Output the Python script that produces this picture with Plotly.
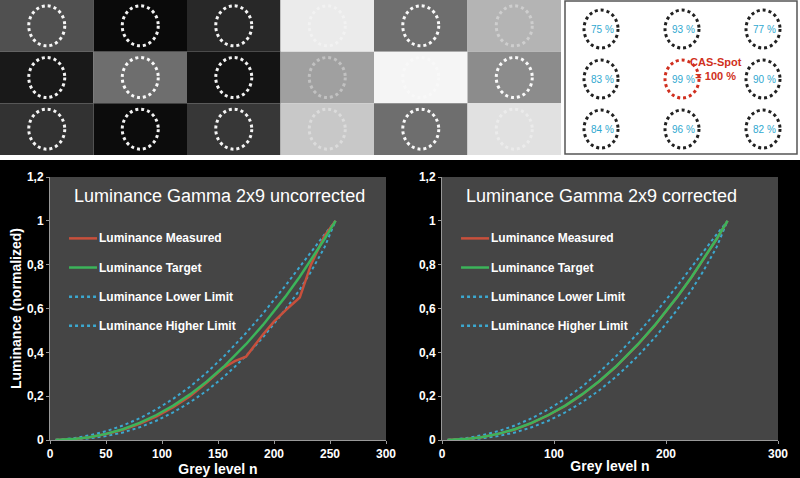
import plotly.graph_objects as go

# grey patch levels (0-255), rows top to bottom, 6 columns
patch_rows = [
    [80, 10, 40, 235, 110, 180],
    [25, 110, 20, 160, 245, 140],
    [50, 12, 55, 200, 110, 225],
]
spot_labels = [["75 %", "93 %", "77 %"], ["83 %", "99 %", "90 %"], ["84 %", "96 %", "82 %"]]

grey = [5, 20, 35, 50, 65, 80, 95, 110, 125, 140, 155, 165, 175, 190, 200, 210, 223, 233, 245, 255]
target = [0.0002, 0.004, 0.013, 0.028, 0.049, 0.078, 0.114, 0.157, 0.208, 0.267, 0.334, 0.385,
          0.437, 0.524, 0.586, 0.653, 0.745, 0.820, 0.916, 1.0]
lower = [0.0, 0.002, 0.007, 0.018, 0.034, 0.058, 0.088, 0.126, 0.172, 0.225, 0.287, 0.334,
         0.384, 0.467, 0.528, 0.594, 0.686, 0.768, 0.878, 1.0]
higher = [0.001, 0.007, 0.021, 0.040, 0.066, 0.099, 0.140, 0.188, 0.243, 0.308, 0.380, 0.433,
          0.488, 0.576, 0.638, 0.703, 0.790, 0.858, 0.937, 1.0]
measured_unc = [0.0, 0.003, 0.012, 0.027, 0.047, 0.074, 0.108, 0.150, 0.200, 0.262, 0.330, 0.360,
                0.380, 0.48, 0.54, 0.59, 0.65, 0.80, 0.93, 1.0]
measured_cor = [0.0, 0.004, 0.013, 0.028, 0.048, 0.077, 0.113, 0.156, 0.207, 0.266, 0.333, 0.384,
                0.436, 0.522, 0.585, 0.652, 0.744, 0.82, 0.915, 1.0]

RED, GREEN, BLUE = "#c8503c", "#3cb45a", "#3ca8d0"
W, H = 800, 478


def px(x):
    return x / W


def py(y):
    return 1 - y / H


fig = go.Figure()
shapes = []
annotations = []
# white strip between picture and charts
shapes.append(dict(type="rect", xref="paper", yref="paper", x0=0, x1=1, y0=py(160), y1=1,
                   fillcolor="white", line_width=0, layer="below"))
top_h = 155
cw, rh = 93.5, top_h / 3
for r, row in enumerate(patch_rows):
    for c, g in enumerate(row):
        x0, y0 = c * cw, r * rh
        shapes.append(dict(type="rect", xref="paper", yref="paper", x0=px(x0), x1=px(x0 + cw),
                           y0=py(y0 + rh), y1=py(y0), fillcolor=f"rgb({g},{g},{g})", line_width=0, layer="below"))
        a = 0.95 if g < 150 else 0.35
        cx, cy = x0 + cw / 2, y0 + rh / 2
        shapes.append(dict(type="circle", xref="paper", yref="paper", x0=px(cx - 18), x1=px(cx + 18),
                           y0=py(cy + 20), y1=py(cy - 20),
                           line=dict(color=f"rgba(255,255,255,{a})", width=3, dash="dot")))
# white spot box
shapes.append(dict(type="rect", xref="paper", yref="paper", x0=px(565), x1=px(797), y0=py(154), y1=py(1),
                   fillcolor="white", line=dict(color="#555", width=1.5)))
for r in range(3):
    for c in range(3):
        cx, cy = 601 + c * 81, 29 + r * 50
        col = "#d03020" if (r, c) == (1, 1) else "#222"
        shapes.append(dict(type="circle", xref="paper", yref="paper", x0=px(cx - 17), x1=px(cx + 17),
                           y0=py(cy + 19), y1=py(cy - 19), line=dict(color=col, width=3, dash="dot")))
        annotations.append(dict(x=px(cx + 1), y=py(cy), xref="paper", yref="paper", text=spot_labels[r][c],
                                xanchor="center", yanchor="middle", showarrow=False,
                                font=dict(family="Arial", size=10, color="#30a8d0")))
annotations.append(dict(x=px(716), y=py(69), xref="paper", yref="paper", text="<b>CAS-Spot<br>= 100 %</b>",
                        xanchor="center", yanchor="middle", showarrow=False,
                        font=dict(family="Arial", size=11, color="#d03020")))

# two charts
dom_y = [py(440), py(177)]
for i, (meas, title) in enumerate([(measured_unc, "Luminance Gamma 2x9 uncorrected"),
                                   (measured_cor, "Luminance Gamma 2x9 corrected")]):
    xa, ya = ("x", "y") if i == 0 else ("x2", "y2")
    fig.add_trace(go.Scatter(x=grey, y=lower, mode="lines", line=dict(color=BLUE, width=2, dash="dot"),
                             name="Luminance Lower Limit", xaxis=xa, yaxis=ya))
    fig.add_trace(go.Scatter(x=grey, y=higher, mode="lines", line=dict(color=BLUE, width=2, dash="dot"),
                             name="Luminance Higher Limit", xaxis=xa, yaxis=ya))
    fig.add_trace(go.Scatter(x=grey, y=meas, mode="lines", line=dict(color=RED, width=2.5),
                             name="Luminance Measured", xaxis=xa, yaxis=ya))
    fig.add_trace(go.Scatter(x=grey, y=target, mode="lines", line=dict(color=GREEN, width=2.5),
                             name="Luminance Target", xaxis=xa, yaxis=ya))
    annotations.append(dict(x=20, y=1.115, xref=xa, yref=ya, text=title, showarrow=False, xanchor="left",
                            font=dict(family="Arial", size=18, color="white")))
    legend = [("Luminance Measured", RED, "solid"), ("Luminance Target", GREEN, "solid"),
              ("Luminance Lower Limit", BLUE, "dot"), ("Luminance Higher Limit", BLUE, "dot")]
    for k, (txt, col, dash) in enumerate(legend):
        yy = 0.92 - k * 0.133
        shapes.append(dict(type="line", xref=xa, yref=ya, x0=17, x1=42, y0=yy, y1=yy,
                           line=dict(color=col, width=2.5, dash=dash)))
        annotations.append(dict(x=42, y=yy, xref=xa, yref=ya, text=f"<b>{txt}</b>", showarrow=False,
                                xanchor="left", font=dict(family="Arial", size=12, color="white")))

axis_common = dict(showgrid=False, zeroline=False, showline=True, linecolor="#999", ticks="outside",
                   ticklen=3, tickcolor="#999", tickfont=dict(family="Arial", size=12, color="white"),
                   fixedrange=True, automargin=False)
title_font = dict(family="Arial", size=14, color="white")
ytick_vals = [0, 0.2, 0.4, 0.6, 0.8, 1.0, 1.2]
ytick_text = ["<b>0</b>", "<b>0,2</b>", "<b>0,4</b>", "<b>0,6</b>", "<b>0,8</b>", "<b>1</b>", "<b>1,2</b>"]
xt1 = [0, 50, 100, 150, 200, 250, 300]
xt2 = [0, 100, 200, 300]
fig.update_layout(
    width=W, height=H, margin=dict(l=0, r=0, t=0, b=0, autoexpand=False),
    paper_bgcolor="black", plot_bgcolor="#454545",
    xaxis=dict(domain=[px(50), px(386)], range=[0, 300], tickvals=xt1, ticktext=[f"<b>{v}</b>" for v in xt1],
               title=dict(text="<b>Grey level n</b>", font=title_font, standoff=0), anchor="y", **axis_common),
    yaxis=dict(domain=dom_y, range=[0, 1.2], tickvals=ytick_vals, ticktext=ytick_text,
               title=dict(text="<b>Luminance (normalized)</b>", font=title_font, standoff=2),
               anchor="x", **axis_common),
    xaxis2=dict(domain=[px(442), px(778)], range=[0, 300], tickvals=xt2, ticktext=[f"<b>{v}</b>" for v in xt2],
                title=dict(text="<b>Grey level n</b>", font=title_font, standoff=0), anchor="y2", **axis_common),
    yaxis2=dict(domain=dom_y, range=[0, 1.2], tickvals=ytick_vals, ticktext=ytick_text, anchor="x2",
                **axis_common),
    shapes=shapes, annotations=annotations, showlegend=False,
)

fig.write_html("out.html", config={"displayModeBar": False},
               post_script="document.body.style.margin='0';")
